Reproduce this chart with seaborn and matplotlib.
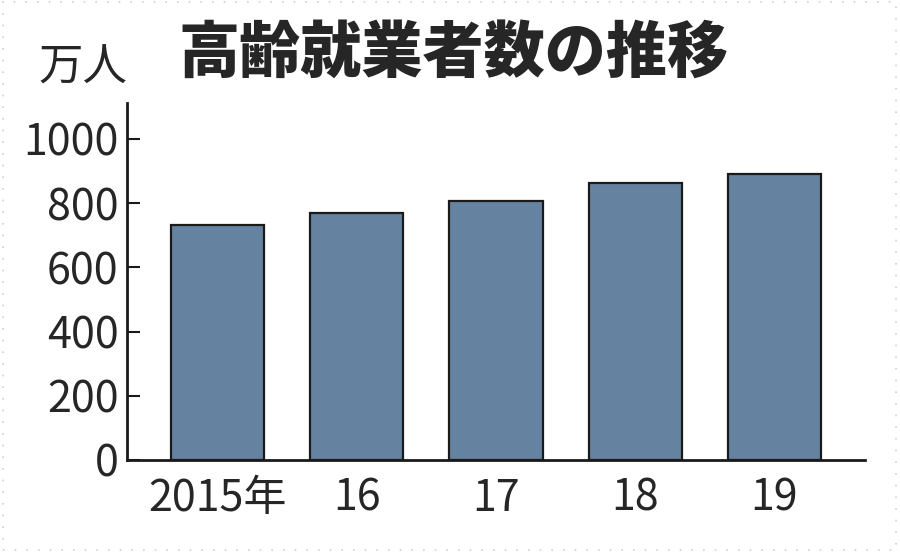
import matplotlib
matplotlib.use("Agg")
import matplotlib.pyplot as plt
import seaborn as sns
import pandas as pd
from matplotlib import font_manager
from matplotlib.patches import Rectangle

# 高齢就業者数（万人）
years = ["2015年", "16", "17", "18", "19"]
workers = [732, 770, 807, 862, 892]
y_ticks = [0, 200, 400, 600, 800, 1000]

sns.set_style("white")

# 細い数字用のフォント（無ければ通常のフォントを小さめに）
names = {f.name for f in font_manager.fontManager.ttflist}
if "Liberation Sans Narrow" in names:
    plt.rcParams["font.family"] = ["Liberation Sans Narrow", "Noto Sans CJK JP", "DejaVu Sans"]
    tick_size = 37
else:
    plt.rcParams["font.family"] = ["Noto Sans CJK JP", "DejaVu Sans"]
    tick_size = 31

df = pd.DataFrame({"year": years, "workers": workers})

fig = plt.figure(figsize=(9, 5.52), dpi=100)
ax = fig.add_axes([0.1411, 0.1667, 0.82, 0.6467])

sns.barplot(
    data=df,
    x="year",
    y="workers",
    ax=ax,
    color="#6583a0",
    saturation=1,
    width=0.67,
    edgecolor="#1a1a1a",
    linewidth=1.6,
)

ax.set_xlim(-0.65, 4.65)
ax.set_ylim(0, 1112)
ax.set_yticks(y_ticks)
ax.set_xlabel("")
ax.set_ylabel("")

for side in ["top", "right"]:
    ax.spines[side].set_visible(False)
for side in ["left", "bottom"]:
    ax.spines[side].set_color("#1a1a1a")
    ax.spines[side].set_linewidth(2)

ax.tick_params(axis="y", direction="in", length=9, width=1.5, color="#1a1a1a",
               labelsize=tick_size, pad=6, left=True)
ax.tick_params(axis="x", length=0, labelsize=tick_size, pad=12)

# 単位と見出し
fig.text(0.043, 0.835, "万人", fontsize=32, family=["Noto Sans CJK JP"], va="bottom")
fig.text(0.198, 0.846, "高齢就業者数の推移", fontsize=44, fontweight="heavy",
         family=["Noto Sans CJK JP"], va="bottom")

# 枠の点線
fig.patches.append(Rectangle((0.003, 0.004), 0.992, 0.992, transform=fig.transFigure,
                             fill=False, edgecolor="#d0d0d0", linestyle=(0, (1, 6)),
                             linewidth=1.2))

fig.savefig("out.png", dpi=100)
